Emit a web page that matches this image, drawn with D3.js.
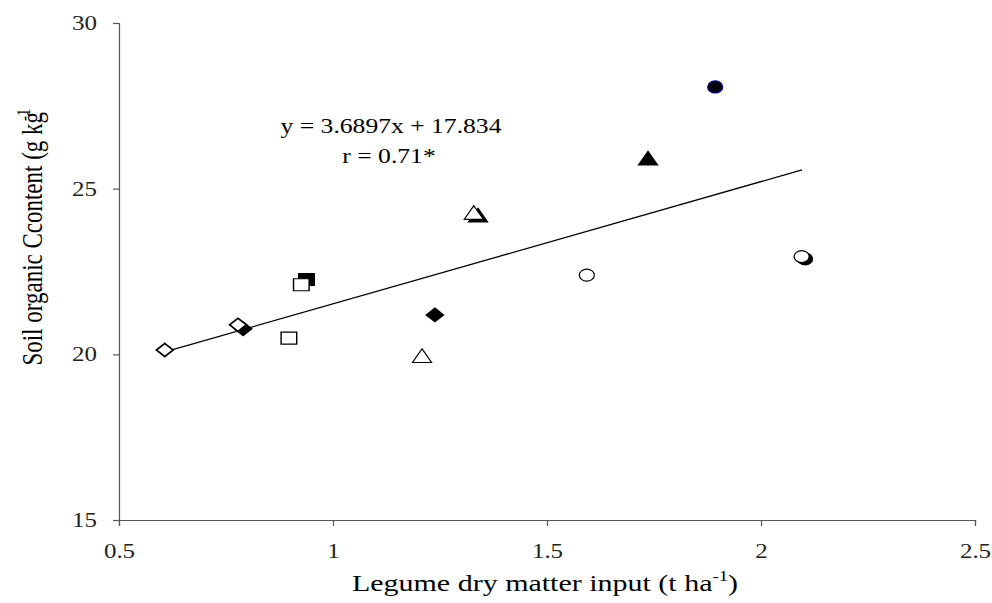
<!DOCTYPE html>
<html>
<head>
<meta charset="utf-8">
<script src="https://cdn.jsdelivr.net/npm/d3@7"></script>
<style>
body { margin: 0; background: white; }
svg text { font-family: "Liberation Serif", "Times New Roman", serif; }
</style>
</head>
<body>
<script>
// point values
var xValues = [0.607, 0.778, 0.79, 0.897, 0.926, 0.938, 1.208, 1.238, 1.329, 1.339, 1.593, 1.736, 1.893, 2.095, 2.103];
var yValues = [20.13, 20.89, 20.77, 20.49, 22.10, 22.26, 19.92, 21.19, 24.24, 24.16, 22.39, 25.88, 28.07, 22.95, 22.88];
var shapes = ["diamond", "diamond", "diamond", "square", "square", "square", "triangle", "diamond", "triangle", "triangle", "circle", "triangle", "circle", "circle", "circle"];
var filled = [false, false, true, false, false, true, false, true, false, true, false, true, true, false, true];
var xTicks = [0.5, 1, 1.5, 2, 2.5];
var yTicks = [15, 20, 25, 30];
var slope = 3.6897, intercept = 17.834;
var fitRange = [0.607, 2.096];

function init() {
    var w = 992, h = 603;
    var stretch = 1.25; // the original figure is stretched sideways
    var svg = d3.select("body").append("svg").attr("width", w).attr("height", h);

    var x = d3.scaleLinear().domain([0.5, 2.5]).range([119, 975]);
    var y = d3.scaleLinear().domain([15, 30]).range([520, 23]);

    var xAxis = svg.append("g").attr("transform", "translate(0,520)")
        .call(d3.axisBottom(x).tickValues(xTicks).tickSize(6).tickPadding(18).tickFormat(d3.format("")));
    var yAxis = svg.append("g").attr("transform", "translate(119,0)")
        .call(d3.axisLeft(y).tickValues(yTicks).tickSize(6).tickPadding(16));

    [xAxis, yAxis].forEach(function (a) {
        a.attr("font-family", null).attr("font-size", null);
        a.select(".domain").attr("stroke", "#555").attr("stroke-width", 1.2);
        a.selectAll(".tick line").attr("stroke", "#555").attr("stroke-width", 1.2);
        a.selectAll("text").style("font-size", "20px").attr("fill", "#222")
            .attr("transform", "scale(" + stretch + ",1)");
    });
    yAxis.selectAll("text").attr("x", -22 / stretch);

    // regression line
    var line = d3.line().x(function (d) { return x(d); }).y(function (d) { return y(slope * d + intercept); });
    svg.append("path").datum(fitRange).attr("d", line)
        .attr("fill", "none").attr("stroke", "black").attr("stroke-width", 1.3);

    var symbolType = { diamond: d3.symbolDiamond, square: d3.symbolSquare, triangle: d3.symbolTriangle };
    var symbolSize = { diamond: 50, square: 144, triangle: 120 };
    var symbolScale = { diamond: "scale(2.2,1)", square: "scale(1.3,1)", triangle: "scale(1.15,0.95) translate(0,1)" };

    var pts = xValues.map(function (v, i) {
        return { x: v, y: yValues[i], shape: shapes[i], filled: filled[i], order: filled[i] ? 0 : 1 };
    });
    pts.sort(function (a, b) { return a.order - b.order; });

    var marks = svg.append("g").selectAll("g").data(pts).enter().append("g")
        .attr("transform", function (d) { return "translate(" + x(d.x) + "," + y(d.y) + ")"; });

    marks.each(function (d) {
        var g = d3.select(this);
        var fill = d.filled ? "black" : "white";
        if (d.shape === "circle") {
            g.append("ellipse").attr("rx", 7.5).attr("ry", 6)
                .attr("fill", fill)
                .attr("stroke", d.filled && d.y > 27 ? "#000080" : "black")
                .attr("stroke-width", 1.2);
        } else {
            var sym = d3.symbol().type(symbolType[d.shape]).size(symbolSize[d.shape]);
            g.append("path").attr("d", sym())
                .attr("transform", symbolScale[d.shape])
                .attr("fill", fill).attr("stroke", "black").attr("stroke-width", 1.1);
        }
    });

    // equation
    svg.append("text").attr("transform", "translate(391,133) scale(" + stretch + ",1)")
        .attr("text-anchor", "middle").style("font-size", "20.5px").text("y = 3.6897x + 17.834");
    svg.append("text").attr("transform", "translate(389,163) scale(" + stretch + ",1)")
        .attr("text-anchor", "middle").style("font-size", "20.5px").text("r = 0.71*");

    // axis titles
    var xt = svg.append("text").attr("transform", "translate(545,591) scale(" + stretch + ",1)")
        .attr("text-anchor", "middle").style("font-size", "24px");
    xt.append("tspan").text("Legume dry matter input (t ha");
    xt.append("tspan").attr("dy", -10).style("font-size", "15px").text("-1");
    xt.append("tspan").attr("dy", 10).text(")");

    var yt = svg.append("text").attr("transform", "translate(42,237) scale(" + stretch + ",1) rotate(-90)")
        .attr("text-anchor", "middle").style("font-size", "23px");
    yt.append("tspan").text("Soil organic Ccontent (g kg");
    yt.append("tspan").attr("dy", -10).attr("dx", -9).style("font-size", "15px").text("-1");
}

window.onload = init;
</script>
</body>
</html>
